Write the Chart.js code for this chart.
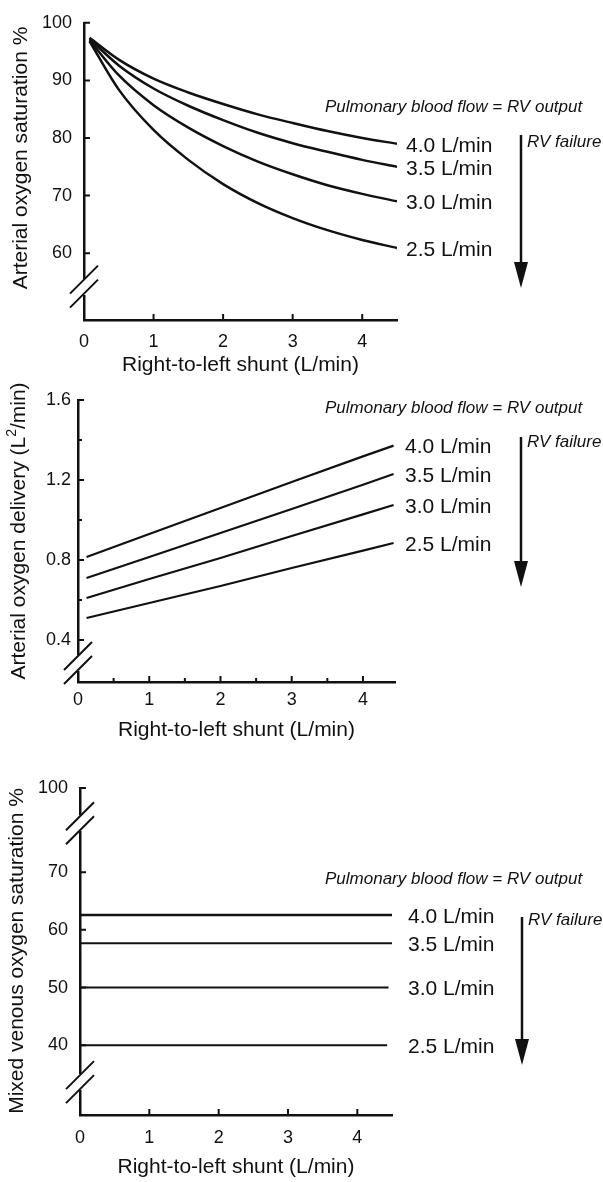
<!DOCTYPE html>
<html>
<head>
<meta charset="utf-8">
<script src="https://cdn.jsdelivr.net/npm/chart.js@4.4.0/dist/chart.umd.min.js"></script>
<style>
  html, body { margin: 0; background: #fff; }
  #wrap { position: relative; width: 603px; height: 1182px; }
  #wrap canvas { position: absolute; left: 0; top: 0; }
</style>
</head>
<body>
<div id="wrap">
  <canvas id="satChart" width="603" height="1182"></canvas>
  <canvas id="deliveryChart" width="603" height="1182"></canvas>
  <canvas id="venousChart" width="603" height="1182"></canvas>
</div>
<script>
// pulmonary blood flow (RV output) for each curve
const flowLabels = ["4.0 L/min", "3.5 L/min", "3.0 L/min", "2.5 L/min"];
const shuntTicks = [0, 1, 2, 3, 4];

// arterial oxygen saturation (%) vs right-to-left shunt (L/min)
const satShunt = [0.08, 0.5, 1, 1.5, 2, 2.5, 3, 3.5, 4, 4.5];
const satFlow40 = [97.4, 93.6, 90.3, 87.9, 85.9, 84.1, 82.6, 81.2, 80.0, 79.0];
const satFlow35 = [97.2, 92.6, 88.6, 85.6, 83.1, 80.9, 79.1, 77.6, 76.2, 75.0];
const satFlow30 = [97.0, 90.9, 85.7, 81.8, 78.6, 75.9, 73.7, 71.8, 70.3, 69.0];
const satFlow25 = [96.8, 88.4, 81.4, 76.2, 72.0, 68.7, 66.1, 64.0, 62.3, 60.9];
const satTicks = [60, 70, 80, 90, 100];

// arterial oxygen delivery (L^2/min) vs shunt
const deliveryShunt = [0.12, 1, 2, 3, 4, 4.43];
const delivery40 = [0.815, 0.93, 1.06, 1.19, 1.318, 1.372];
const delivery35 = [0.71, 0.815, 0.935, 1.055, 1.176, 1.23];
const delivery30 = [0.61, 0.705, 0.81, 0.92, 1.028, 1.075];
const delivery25 = [0.51, 0.585, 0.67, 0.76, 0.847, 0.885];
const deliveryTicks = [0.4, 0.8, 1.2, 1.6];
const deliveryMinorTicks = [0.6, 1.0, 1.4];
const shuntMinorTicks = [0.5, 1.5, 2.5, 3.5];

// mixed venous saturation (%) is flat across the shunt range
const venousSat = [62.6, 57.7, 50.0, 40.0];
const venousEnd = [4.52, 4.5, 4.45, 4.43];
const venousTicks = [40, 50, 60, 70, 100];

const ink = "#111";
const fontFamily = "'Liberation Sans', Arial, Helvetica, sans-serif";
Chart.defaults.font.family = fontFamily;
Chart.defaults.color = ink;

function pts(xs, ys) {
  return xs.map((x, i) => ({ x: x, y: ys[i] }));
}

function lineSet(data, width, smooth) {
  return {
    data: data,
    borderColor: ink,
    borderWidth: width,
    pointRadius: 0,
    showLine: true,
    fill: false,
    cubicInterpolationMode: smooth ? "monotone" : "default",
    tension: 0
  };
}

// draws the y title with an optional superscript piece
function drawYTitle(ctx, title) {
  ctx.save();
  ctx.translate(title.x, title.cy);
  ctx.rotate(-Math.PI / 2);
  ctx.textBaseline = "alphabetic";
  ctx.textAlign = "left";
  const big = "21px " + fontFamily;
  const small = "14px " + fontFamily;
  let total = 0;
  title.parts.forEach(p => {
    ctx.font = p.sup ? small : big;
    total += ctx.measureText(p.t).width;
  });
  let x = -total / 2;
  title.parts.forEach(p => {
    ctx.font = p.sup ? small : big;
    ctx.fillText(p.t, x, p.sup ? -9 : 0);
    x += ctx.measureText(p.t).width;
  });
  ctx.restore();
}

// ticks pointing into the plot, axis breaks, side notes and the RV failure arrow
const panelDecor = {
  id: "panelDecor",
  afterDraw(chart, args, opts) {
    const ctx = chart.ctx;
    const xs = chart.scales.x;
    const ys = chart.scales.y;
    const area = chart.chartArea;
    ctx.save();
    ctx.strokeStyle = ink;
    ctx.fillStyle = ink;
    ctx.lineCap = "butt";

    ctx.lineWidth = 2;
    ctx.beginPath();
    ys.ticks.forEach(t => {
      const y = ys.getPixelForValue(t.value);
      ctx.moveTo(area.left, y);
      ctx.lineTo(area.left + 6, y);
    });
    xs.ticks.forEach(t => {
      if (t.value === 0) return;
      const x = xs.getPixelForValue(t.value);
      ctx.moveTo(x, area.bottom);
      ctx.lineTo(x, area.bottom - 6);
    });
    (opts.minorY || []).forEach(v => {
      const y = ys.getPixelForValue(v);
      ctx.moveTo(area.left, y);
      ctx.lineTo(area.left + 4, y);
    });
    (opts.minorX || []).forEach(v => {
      const x = xs.getPixelForValue(v);
      ctx.moveTo(x, area.bottom);
      ctx.lineTo(x, area.bottom - 4);
    });
    ctx.stroke();

    (opts.breaks || []).forEach(b => {
      const y = ys.getPixelForValue(b);
      ctx.clearRect(area.left - 4, y - 8, 8, 16);
      ctx.lineWidth = 2;
      ctx.beginPath();
      [-7, 7].forEach(d => {
        ctx.moveTo(area.left - 14, y + d + 14);
        ctx.lineTo(area.left + 14, y + d - 14);
      });
      ctx.stroke();
    });

    drawYTitle(ctx, opts.yTitle);

    const note = opts.note;
    ctx.textBaseline = "middle";
    ctx.textAlign = "left";
    ctx.font = "italic 17px " + fontFamily;
    ctx.fillText("Pulmonary blood flow = RV output", 325, note.titleY);
    ctx.fillText("RV failure", note.arrowX + 6, note.rvY);

    ctx.font = "21px " + fontFamily;
    chart.data.datasets.forEach((ds, i) => {
      const meta = chart.getDatasetMeta(i);
      const last = meta.data[meta.data.length - 1];
      ctx.fillText(flowLabels[i], note.labelX, last.y + 2);
    });

    ctx.lineWidth = 2.5;
    ctx.beginPath();
    ctx.moveTo(note.arrowX, note.arrowTop);
    ctx.lineTo(note.arrowX, note.arrowBottom - 20);
    ctx.stroke();
    ctx.beginPath();
    ctx.moveTo(note.arrowX - 7, note.arrowBottom - 26);
    ctx.lineTo(note.arrowX + 7, note.arrowBottom - 26);
    ctx.lineTo(note.arrowX, note.arrowBottom);
    ctx.closePath();
    ctx.fill();
    ctx.restore();
  }
};

function makeChart(id, cfg) {
  return new Chart(document.getElementById(id), {
    type: "scatter",
    data: { datasets: cfg.datasets },
    options: {
      responsive: false,
      animation: false,
      events: [],
      layout: { padding: cfg.padding },
      plugins: {
        legend: { display: false },
        tooltip: { enabled: false },
        panelDecor: cfg.decor
      },
      scales: {
        x: {
          type: "linear",
          min: 0,
          max: cfg.xMax,
          grid: { display: false, drawTicks: false },
          border: { display: true, color: ink, width: 2.5 },
          afterBuildTicks: s => { s.ticks = shuntTicks.map(v => ({ value: v })); },
          afterFit: s => { s.height = cfg.xHeight; },
          ticks: { padding: cfg.xTickPad, font: { size: 18 }, color: ink },
          title: {
            display: true,
            text: "Right-to-left shunt (L/min)",
            font: { size: 21 },
            color: ink,
            padding: { top: 0, bottom: 2 }
          }
        },
        y: {
          type: "linear",
          min: cfg.yMin,
          max: cfg.yMax,
          grid: { display: false, drawTicks: false },
          border: { display: true, color: ink, width: 2.5 },
          afterBuildTicks: s => { s.ticks = cfg.yTickValues.map(v => ({ value: v })); },
          afterFit: s => { s.width = cfg.yWidth; },
          ticks: {
            padding: cfg.yTickPad,
            font: { size: 18 },
            color: ink,
            callback: (v, i) => cfg.yTickLabels[i]
          }
        }
      }
    },
    plugins: [panelDecor]
  });
}

makeChart("satChart", {
  datasets: [
    lineSet(pts(satShunt, satFlow40), 2.5, true),
    lineSet(pts(satShunt, satFlow35), 2.5, true),
    lineSet(pts(satShunt, satFlow30), 2.5, true),
    lineSet(pts(satShunt, satFlow25), 2.5, true)
  ],
  padding: { left: 0, right: 206, top: 17, bottom: 802 },
  xMax: 4.5, xHeight: 60, xTickPad: 11,
  yMin: 48.4, yMax: 100, yWidth: 84, yTickPad: 12,
  yTickValues: satTicks, yTickLabels: satTicks.map(String),
  decor: {
    breaks: [54.2],
    yTitle: { x: 27, cy: 158, parts: [{ t: "Arterial oxygen saturation %" }] },
    note: { titleY: 107, rvY: 142, labelX: 406, arrowX: 521, arrowTop: 135, arrowBottom: 288 }
  }
});

makeChart("deliveryChart", {
  datasets: [
    lineSet(pts(deliveryShunt, delivery40), 2.2, false),
    lineSet(pts(deliveryShunt, delivery35), 2.2, false),
    lineSet(pts(deliveryShunt, delivery30), 2.2, false),
    lineSet(pts(deliveryShunt, delivery25), 2.2, false)
  ],
  padding: { left: 0, right: 208, top: 400, bottom: 437 },
  xMax: 4.45, xHeight: 63, xTickPad: 7,
  yMin: 0.19, yMax: 1.6, yWidth: 78, yTickPad: 7,
  yTickValues: deliveryTicks, yTickLabels: deliveryTicks.map(v => v.toFixed(1)),
  decor: {
    breaks: [0.285],
    minorY: deliveryMinorTicks,
    minorX: shuntMinorTicks,
    yTitle: { x: 25, cy: 531, parts: [{ t: "Arterial oxygen delivery (L" }, { t: "2", sup: true }, { t: "/min)" }] },
    note: { titleY: 408, rvY: 442, labelX: 405, arrowX: 521, arrowTop: 437, arrowBottom: 587 }
  }
});

// the "100" tick sits at the top of the broken axis
const venousTop = 84.6;
makeChart("venousChart", {
  datasets: venousSat.map((v, i) => lineSet([{ x: 0, y: v }, { x: venousEnd[i], y: v }], i === 0 ? 2.5 : 2, false)),
  padding: { left: 0, right: 211, top: 788, bottom: 0 },
  xMax: 4.5, xHeight: 67, xTickPad: 12,
  yMin: 27.9, yMax: venousTop, yWidth: 80, yTickPad: 12,
  yTickValues: venousTicks.map(v => (v > 70 ? venousTop : v)),
  yTickLabels: venousTicks.map(String),
  decor: {
    breaks: [78.5, 33.6],
    yTitle: { x: 23, cy: 951, parts: [{ t: "Mixed venous oxygen saturation %" }] },
    note: { titleY: 879, rvY: 920, labelX: 408, arrowX: 522, arrowTop: 917, arrowBottom: 1065 }
  }
});
</script>
</body>
</html>
